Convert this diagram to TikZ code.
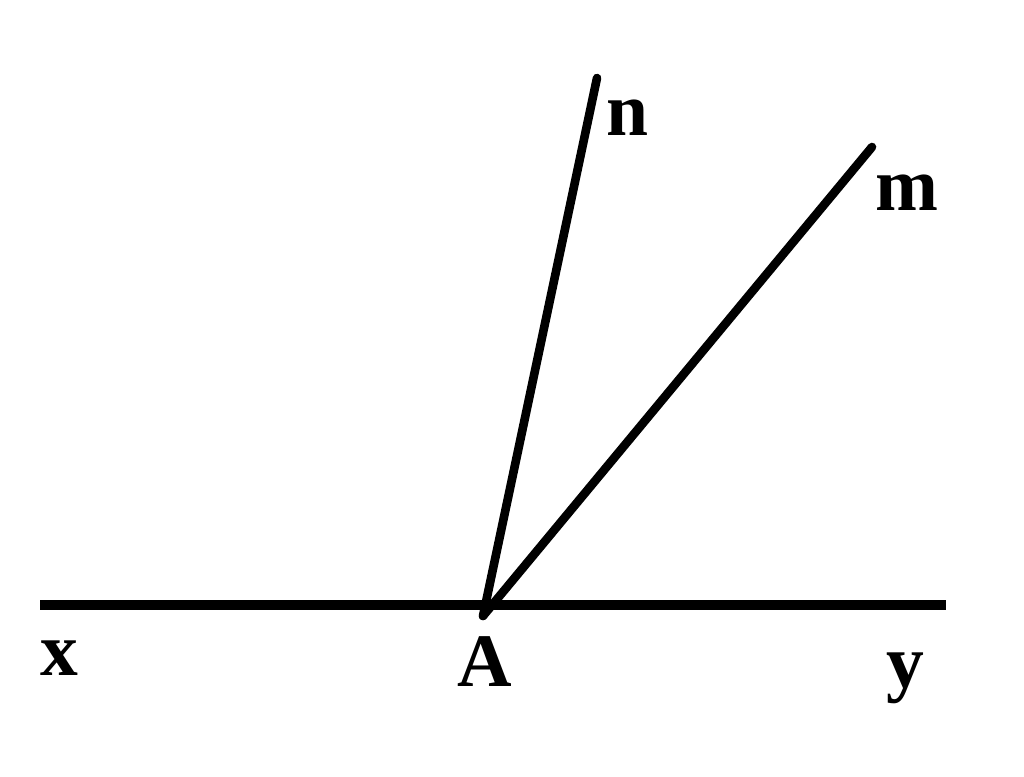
\documentclass[tikz,border=0pt]{standalone}
\usepackage{fontspec}
\setmainfont{Liberation Serif}
\begin{document}
\begin{tikzpicture}[x=0.02cm,y=-0.02cm,
  lbl/.style={font=\fontsize{43}{43}\selectfont\bfseries, anchor=base, inner sep=0pt},
  baseline/.style={line width=5.7pt, line cap=butt},
  ray/.style={line width=4.9pt, line cap=round}]
\useasboundingbox (0,0) rectangle (1024,777);
\coordinate (X) at (40,605);
\coordinate (Y) at (946,605);
\coordinate (A) at (483,616);
\coordinate (N) at (597,78);
\coordinate (M) at (872,147);
\draw[baseline] (X) -- (Y);
\draw[ray] (A) -- (N);
\draw[ray] (A) -- (M);
\node[lbl] (lx) at (59,675) {x};
\node[lbl] (la) at (485,686) {A};
\node[lbl] (ly) at (905,687) {y};
\node[lbl] (ln) at (627,135) {n};
\node[lbl] (lm) at (907,210) {m};
\end{tikzpicture}
\end{document}
